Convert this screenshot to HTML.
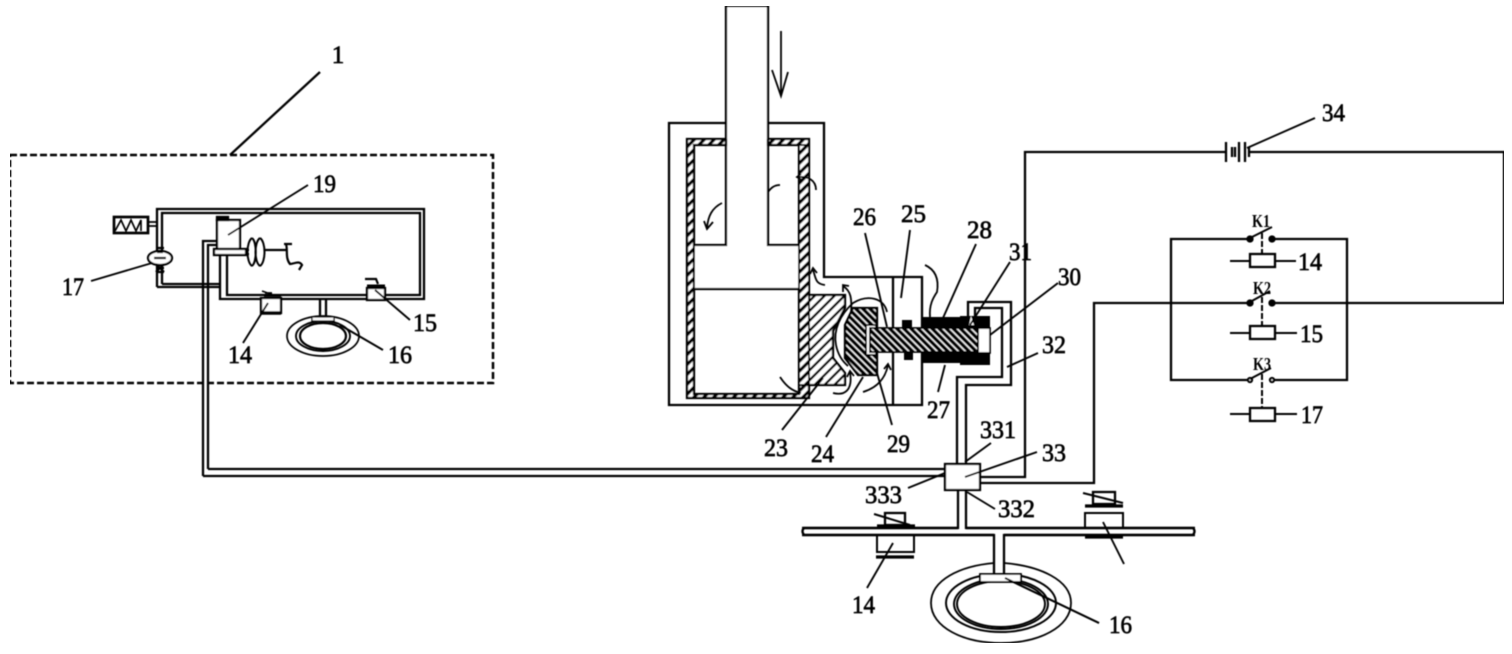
<!DOCTYPE html>
<html>
<head>
<meta charset="utf-8">
<style>
html,body{margin:0;padding:0;background:#fff;width:1512px;height:654px;overflow:hidden}
svg{display:block}
text{font-family:"Liberation Serif","Noto Serif CJK SC",serif;font-size:25px;fill:#000;stroke:#000;stroke-width:.7}
.k{font-size:18px;font-weight:bold;stroke-width:0}
</style>
</head>
<body>
<svg width="1512" height="654" viewBox="0 0 1512 654" xmlns="http://www.w3.org/2000/svg">
<defs>
<pattern id="h1" width="7" height="7" patternUnits="userSpaceOnUse" patternTransform="rotate(45)"><rect width="7" height="7" fill="#fff"/><rect width="3.2" height="7" fill="#000"/></pattern>
<pattern id="h2" width="7" height="7" patternUnits="userSpaceOnUse" patternTransform="rotate(45)"><rect width="7" height="7" fill="#fff"/><rect width="2.4" height="7" fill="#000"/></pattern>
<pattern id="h3" width="5" height="5" patternUnits="userSpaceOnUse" patternTransform="rotate(-45)"><rect width="5" height="5" fill="#fff"/><rect width="3.6" height="5" fill="#000"/></pattern>
<filter id="b" x="0" y="0" width="100%" height="100%"><feGaussianBlur stdDeviation=".4"/></filter>
</defs>
<g filter="url(#b)" fill="none" stroke="#000" stroke-width="2.3">
<!-- System box -->
<rect x="10" y="155" width="483" height="228" stroke-dasharray="7 3" stroke-width="2.5"/>
<path d="M230 155L320 72"/>
<!-- Small circuit -->
<path d="M157 287V209H424V299H220V255M162 284V213H420V295H227V255M157 287H220M162 284H220"/>
<rect x="114" y="217" width="34" height="16" stroke-width="2.7"/>
<path d="M115 231L121 220L126 231L131 220L136 231L141 220L141 231M148 222H157M148 226H157" stroke-width="1.7"/>
<ellipse cx="160" cy="258" rx="12" ry="7" fill="#fff"/>
<path d="M156 248H164M157 252H163M156 268H164M156 272H164M156 264L164 272M164 264L156 272M154 258H166" stroke-width="2.2"/>
<path d="M203 476V241H217M208 469V245H217M203 476H945M208 469H945"/>
<rect x="217" y="220" width="23" height="29" fill="#fff"/>
<rect x="217" y="217" width="11" height="3" fill="#000"/>
<rect x="214" y="249" width="32" height="6" fill="#fff"/>
<path d="M246 250H249M246 254H249"/>
<path d="M252 238C246 242 246 262 252 266M252 238C257 242 257 262 252 266M260 238C254 242 254 262 260 266M260 238C266 242 266 262 260 266" stroke-width="2"/>
<path d="M264 250H286M286 244C288 250 285 258 290 264C294 264 299 260 302 265L299 270M284 244H292" stroke-width="2.2"/>
<!-- caliper small -->
<rect x="261" y="298" width="20" height="15" fill="#fff"/>
<path d="M261 313H281" stroke-width="3.5"/>
<path d="M265 293H272M262 291L276 296M264 296H281" stroke-width="1.7"/>
<rect x="367" y="288" width="18" height="12" fill="#fff"/>
<path d="M367 286H385" stroke-width="3"/>
<path d="M365 279H376L378 284" stroke-width="2.2"/>
<!-- small disc -->
<path d="M320 299V317M326 299V317"/>
<ellipse cx="323" cy="336" rx="36" ry="20" stroke-width="1.7"/>
<ellipse cx="323" cy="336" rx="27" ry="15" stroke-width="1.9"/>
<ellipse cx="323" cy="336" rx="23" ry="13" stroke-width="2.2"/>
<rect x="312" y="317" width="22" height="4" fill="#fff" stroke-width="1.3"/>
<!-- small leaders -->
<path d="M228 235L308 185M91 281L152 263M375 290L410 320M243 343L268 303M340 325L383 350" stroke-width="1.9"/>

<!-- Main housing -->
<path d="M726 123H669V405H922V277H824V123H768"/>
<path d="M893 277V405"/>
<!-- Cylinder wall hatched -->
<path fill="url(#h1)" fill-rule="evenodd" d="M687 139H809V398H687ZM694 145V394H799V145Z"/>
<!-- Rod -->
<path fill="#fff" d="M726 6H768V245H800V288H695V245H726Z" stroke="none"/>
<path d="M726 147V6H768V245H799M726 147V245H695M695 289H799"/>
<path d="M726 139V146M768 139V146"/>
<!-- Seal 23 -->
<path fill="url(#h2)" d="M809 295H845V308L833 331V358L845 373V385H800V300H809Z"/>
<path fill="url(#h1)" d="M799 145H809V385H799Z" stroke-width="1.7"/>
<!-- Sleeve -->
<path fill="#000" stroke="none" d="M922 317H960V316H990V365H960V363H922V352H978V328H922Z"/>
<rect x="902" y="320" width="10" height="8" fill="#000" stroke="none"/>
<rect x="904" y="352" width="9" height="8" fill="#000" stroke="none"/>
<!-- Part 24 -->
<path fill="url(#h3)" stroke="#000" d="M853 308H877V375H858L845 358V325Z"/>
<rect x="866" y="325" width="10" height="30" fill="#fff" stroke-width="1.7"/>
<rect x="870" y="328" width="108" height="24" fill="url(#h3)" stroke-width="1.7"/>
<rect x="978" y="328" width="12" height="25" fill="#fff" stroke-width="1.7"/>
<path d="M974 325L971 316L969 325Z" fill="#fff" stroke="none"/>
<!-- Flow arrows -->
<g stroke-width="1.8">
<path d="M781 31V96M772 70L781 96L788 72"/>
<path d="M722 203C712 208 708 216 707 228M704 221L707 229L713 222"/>
<path d="M780 185C774 185 771 188 768 192"/>
<path d="M816 190C816 180 808 176 797 177M801 174L797 177L802 180"/>
<path d="M825 285C815 284 816 278 813 270M810 274L813 268L817 273"/>
<path d="M851 314C852 298 851 291 843 286M843 292L843 285L849 286"/>
<path d="M925 265C936 270 939 280 937 292C933 298 929 305 930 317"/>
<path d="M887 312C884 298 868 294 853 303C840 315 833 330 836 345C838 355 842 361 848 366"/>
<path d="M833 393C845 396 853 390 850 372M847 377L850 371L854 376"/>
<path d="M863 392C876 388 885 380 888 365M884 369L888 364L891 370"/>
<path d="M780 377C786 386 792 391 801 393"/>
</g>
<!-- Leaders centre -->
<g stroke-width="1.9">
<path d="M865 233L887 327M910 230L901 298M976 244L943 318M1010 262L970 325M1058 283L990 335M1038 353L1007 367M945 365L938 392M877 373L892 425M863 377L826 437M823 378L782 430"/>
<path d="M867 588L893 543M1099 623L1005 578M1315 118L1247 148"/>
</g>
<!-- Pipes 32 -->
<path d="M957 464V377H1002V308H975V317M966 464V385H1011V302H968V317"/>
<!-- Valve 33 -->
<rect x="945" y="464" width="35" height="26" fill="#fff"/>
<path d="M991 443L965 462M1037 452L965 477M945 473L908 488M995 509L967 492" stroke-width="1.9"/>
<!-- Circuit wires -->
<path d="M980 477H1025V152H1226M1249 152H1504V303H1272M1250 303H1094V483H980"/>
<path d="M1226 142V162M1239 142V162M1245 142V162"/>
<path d="M1232 147V157M1235 147V157M1249 147V157"/>
<path d="M1250 239H1171V380H1250M1272 239H1347V380H1272"/>
<g>
<circle cx="1250" cy="239" r="2.5" fill="#000"/><circle cx="1272" cy="239" r="2.5" fill="#000"/>
<circle cx="1250" cy="303" r="2.5" fill="#000"/><circle cx="1272" cy="303" r="2.5" fill="#000"/>
<circle cx="1250" cy="380" r="2" fill="#fff"/><circle cx="1272" cy="380" r="2" fill="#fff"/>
<path d="M1250 238L1272 227M1250 302L1270 291M1250 379L1271 368" stroke-width="2"/>
<path d="M1262 233V254M1262 297V326M1262 374V408" stroke-width="2" stroke-dasharray="6 2"/>
<rect x="1250" y="254" width="25" height="13"/>
<rect x="1250" y="326" width="25" height="13"/>
<rect x="1250" y="408" width="25" height="13"/>
<path d="M1230 261H1250M1275 261H1296M1230 333H1250M1275 333H1297M1230 414H1250M1275 414H1297" stroke-width="1.9"/>
</g>
<!-- Lower brake -->
<path d="M958 490V528H804Q801 531 804 535H994V574M966 490V528H1193Q1196 531 1193 535H1004V574"/>
<path d="M802 528H958M966 528H1195M802 535H994M1004 535H1195" stroke-width="2.6"/>
<!-- left caliper -->
<rect x="885" y="513" width="20" height="12"/>
<path d="M874 514L910 525" stroke-width="2"/>
<path d="M877 526H915" stroke-width="3.2"/>
<path d="M877 535V552H914V535" stroke-width="2"/>
<path d="M876 557H914" stroke-width="3.2"/>
<!-- right caliper -->
<rect x="1093" y="492" width="22" height="12"/>
<path d="M1083 493L1123 503" stroke-width="2"/>
<path d="M1085 506H1123" stroke-width="3.2"/>
<path d="M1085 528V513H1123V528" stroke-width="2"/>
<path d="M1085 537H1123" stroke-width="3.2"/>
<path d="M1103 522L1124 564" stroke-width="1.9"/>
<!-- disc -->
<path d="M994 563C960 566 931 580 931 603C931 627 963 643 1001 643C1039 643 1071 627 1071 603C1071 580 1040 566 1004 563" stroke-width="1.8"/>
<ellipse cx="1001" cy="603" rx="55" ry="29" stroke-width="2"/>
<ellipse cx="1001" cy="604" rx="47" ry="25" stroke-width="2"/>
<ellipse cx="1001" cy="604" rx="44" ry="23" stroke-width="2"/>
<rect x="980" y="574" width="41" height="8" fill="#fff" stroke-width="1.8"/>
<path d="M1005 578L1099 623" stroke-width="1.9"/>

<!-- Labels -->
<g stroke="none">
<text x="338" y="63" text-anchor="middle">1</text>
<text x="313" y="192" textLength="23" lengthAdjust="spacingAndGlyphs">19</text>
<text x="62" y="295" textLength="22" lengthAdjust="spacingAndGlyphs">17</text>
<text x="413" y="331" textLength="24" lengthAdjust="spacingAndGlyphs">15</text>
<text x="228" y="363" textLength="24" lengthAdjust="spacingAndGlyphs">14</text>
<text x="388" y="363" textLength="24" lengthAdjust="spacingAndGlyphs">16</text>
<text x="853" y="225" textLength="23" lengthAdjust="spacingAndGlyphs">26</text>
<text x="901" y="222" textLength="25" lengthAdjust="spacingAndGlyphs">25</text>
<text x="967" y="238" textLength="25" lengthAdjust="spacingAndGlyphs">28</text>
<text x="1009" y="260" textLength="23" lengthAdjust="spacingAndGlyphs">31</text>
<text x="1058" y="285" textLength="23" lengthAdjust="spacingAndGlyphs">30</text>
<text x="1042" y="353" textLength="24" lengthAdjust="spacingAndGlyphs">32</text>
<text x="927" y="418" textLength="23" lengthAdjust="spacingAndGlyphs">27</text>
<text x="887" y="452" textLength="23" lengthAdjust="spacingAndGlyphs">29</text>
<text x="811" y="462" textLength="23" lengthAdjust="spacingAndGlyphs">24</text>
<text x="764" y="456" textLength="24" lengthAdjust="spacingAndGlyphs">23</text>
<text x="980" y="438" textLength="36" lengthAdjust="spacingAndGlyphs">331</text>
<text x="1042" y="461" textLength="24" lengthAdjust="spacingAndGlyphs">33</text>
<text x="865" y="503" textLength="37" lengthAdjust="spacingAndGlyphs">333</text>
<text x="998" y="517" textLength="37" lengthAdjust="spacingAndGlyphs">332</text>
<text x="852" y="613" textLength="23" lengthAdjust="spacingAndGlyphs">14</text>
<text x="1109" y="633" textLength="23" lengthAdjust="spacingAndGlyphs">16</text>
<text x="1322" y="121" textLength="23" lengthAdjust="spacingAndGlyphs">34</text>
<text x="1298" y="270" textLength="24" lengthAdjust="spacingAndGlyphs">14</text>
<text x="1300" y="342" textLength="23" lengthAdjust="spacingAndGlyphs">15</text>
<text x="1301" y="423" textLength="22" lengthAdjust="spacingAndGlyphs">17</text>
<text class="k" x="1252" y="227" textLength="18" lengthAdjust="spacingAndGlyphs">K1</text>
<text class="k" x="1253" y="294" textLength="18" lengthAdjust="spacingAndGlyphs">K2</text>
<text class="k" x="1253" y="370" textLength="18" lengthAdjust="spacingAndGlyphs">K3</text>
</g>
</g>
</svg>
</body>
</html>
